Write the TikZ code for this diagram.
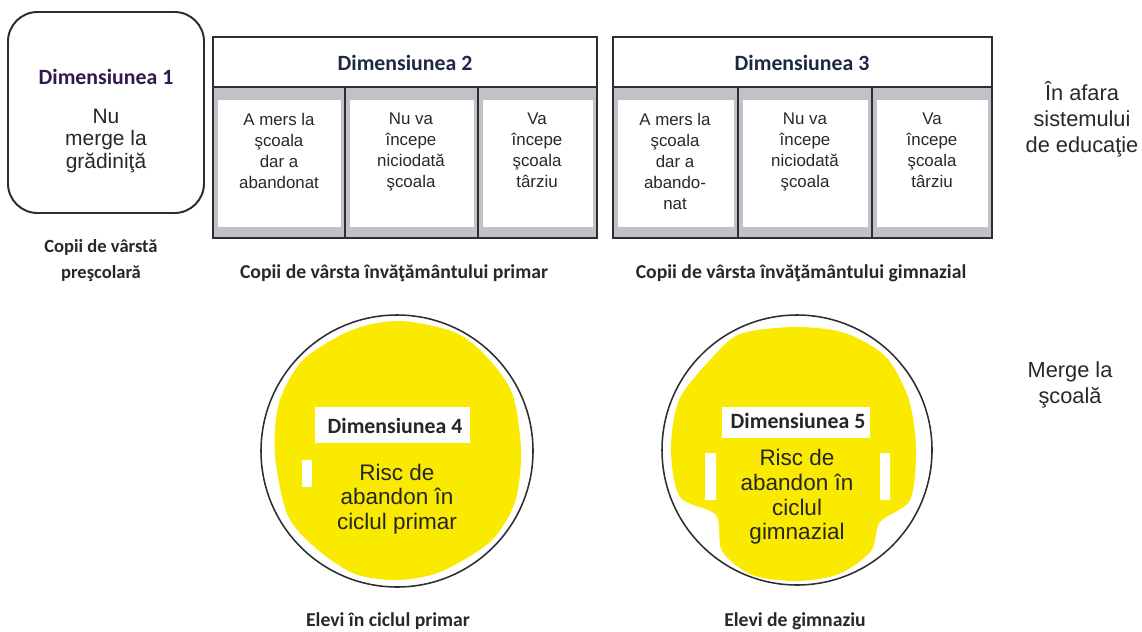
\documentclass[tikz,border=0pt]{standalone}
\usepackage{fontspec}
\setmainfont{Liberation Sans}
\newfontfamily\calib{Carlito}
\definecolor{dimnavy}{RGB}{30,40,70}
\definecolor{dimviolet}{RGB}{50,25,75}
\definecolor{bandgray}{RGB}{192,194,200}
\definecolor{blobyellow}{RGB}{250,234,0}
\definecolor{framegray}{RGB}{45,45,50}
\definecolor{labelgray}{RGB}{40,40,40}

\begin{document}
\begin{tikzpicture}[x=0.025cm,y=-0.025cm,
	every node/.style={inner sep=0pt,align=center},
	title/.style={font=\calib\bfseries\fontsize{15.5}{18}\selectfont,text=dimnavy},
	celltext/.style={anchor=north,font=\fontsize{12}{14.9}\selectfont,text=labelgray},
	caption/.style={font=\calib\bfseries\fontsize{14}{18.5}\selectfont,text=labelgray},
	bodytext/.style={font=\fontsize{16}{17.6}\selectfont,text=black!85},
	sidetext/.style={font=\fontsize{15.5}{18.5}\selectfont,text=labelgray},
	boxframe/.style={draw=framegray,line width=1.4pt},
	divider/.style={draw=framegray,line width=2pt}]

	\useasboundingbox (0,0) rectangle (1142,631);

	% dimensiunea 1
	\draw[boxframe,rounded corners=21pt] (8,12) rectangle (204,213);
	\node[title,text=dimviolet] (t1) at (106,77) {Dimensiunea 1};
	\node[font=\fontsize{14.9}{15.8}\selectfont,text=labelgray] (n1) at (106,141) {Nu\\merge la\\grădiniţă};
	\node[caption,font=\calib\bfseries\fontsize{13.2}{18.5}\selectfont] (k1) at (101,261) {Copii de vârstă\\preşcolară};

	% dimensiunile 2 si 3
	\foreach \xa/\xb in {213/345,345/478,478/597,613/738,738/872,872/992}{
		\fill[bandgray] (\xa,87) rectangle (\xb,238);
		\fill[white] (\xa+5,100) rectangle (\xb-4,227);
	}
	\draw[boxframe] (213,37) rectangle (597,238) (213,87) -- (597,87);
	\draw[divider] (345,87) -- (345,238) (478,87) -- (478,238);
	\draw[boxframe] (613,37) rectangle (992,238) (613,87) -- (992,87);
	\draw[divider] (738,87) -- (738,238) (872,87) -- (872,238);

	\node[title] (t2) at (405,63) {Dimensiunea 2};
	\node[celltext] (c21) at (279,113) {A mers la\\şcoala\\dar a\\abandonat};
	\node[celltext] (c22) at (411,113) {Nu va\\începe\\niciodată\\şcoala};
	\node[celltext] (c23) at (537,113) {Va\\începe\\şcoala\\târziu};
	\node[caption] (k2) at (394,273) {Copii de vârsta învăţământului primar};

	\node[title] (t3) at (802,63) {Dimensiunea 3};
	\node[celltext] (c31) at (675,113) {A mers la\\şcoala\\dar a\\abando-\\nat};
	\node[celltext] (c32) at (805,113) {Nu va\\începe\\niciodată\\şcoala};
	\node[celltext] (c33) at (932,113) {Va\\începe\\şcoala\\târziu};
	\node[caption] (k3) at (801,273) {Copii de vârsta învăţământului gimnazial};

	% dimensiunea 4
	\fill[blobyellow] plot[smooth cycle,tension=0.5] coordinates {(352,330) (400,321) (454,332) (485,355)
		(512,393) (521,450) (515,502) (490,542) (440,572) (397,580) (355,574) (318,550) (288,516)
		(275,455) (279,403) (303,360)};
	\fill[white] (315,407) rectangle (470,443);
	\fill[white] (302,460) rectangle (312,487);
	\draw[line width=1.1pt,framegray] (397,451) circle[radius=136];
	\node[title,text=black!85] (t4) at (395,426) {Dimensiunea 4};
	\node[bodytext] (r4) at (397,499) {Risc de\\abandon în\\ciclul primar};
	\node[caption] (k4) at (388,621) {Elevi în ciclul primar};

	% dimensiunea 5
	\fill[blobyellow] plot[smooth cycle,tension=0.5] coordinates {(740,334) (795,327) (845,333) (886,357)
		(909,400) (916,450) (910,500) (880,522) (871,551) (839,574) (797,581) (752,575) (722,551)
		(716,515) (680,497) (671,450) (679,400) (710,360)};
	\fill[white] (722,407) rectangle (870,438);
	\fill[white] (705,453) rectangle (716,500) (880,453) rectangle (890,500);
	\draw[line width=1.1pt,framegray] (797,450) circle[radius=135];
	\node[title,text=black!85] (t5) at (798,421) {Dimensiunea 5};
	\node[bodytext] (r5) at (797,497) {Risc de\\abandon în\\ciclul\\gimnazial};
	\node[caption] (k5) at (795,621) {Elevi de gimnaziu};

	% etichete laterale
	\node[sidetext] (s1) at (1082,119) {În afara\\sistemului\\de educaţie};
	\node[sidetext] (s2) at (1070,385) {Merge la\\şcoală};

\end{tikzpicture}
\end{document}
